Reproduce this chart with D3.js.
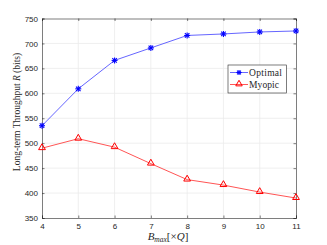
<!DOCTYPE html>
<html>
<head>
<meta charset="utf-8">
<script src="https://cdn.jsdelivr.net/npm/d3@7"></script>
<style>
  body { margin: 0; background: #fff; }
  svg { display: block; }
  .tick text { font-family: "Liberation Sans", Arial, sans-serif; font-size: 8px; fill: #262626; }
</style>
</head>
<body>
<div id="chart"></div>
<script>
const bmax = [4, 5, 6, 7, 8, 9, 10, 11];
const optimal = [535, 609, 666, 691, 716, 719, 723, 725];
const myopic = [490, 509, 492, 459, 427, 416, 402, 390];
const yTicks = [350, 400, 450, 500, 550, 600, 650, 700, 750];

const width = 327, height = 245;
const margin = { top: 18.5, right: 31, bottom: 27, left: 42 };
const serif = '"Liberation Serif", "DejaVu Serif", serif';

const svg = d3.select('#chart').append('svg').attr('width', width).attr('height', height);

const x = d3.scaleLinear().domain([4, 11]).range([margin.left, width - margin.right]);
const y = d3.scaleLinear().domain([350, 750]).range([height - margin.bottom, margin.top]);

// grid
svg.append('g').selectAll('line').data(bmax.slice(1, -1)).join('line')
  .attr('x1', (d) => x(d)).attr('x2', (d) => x(d))
  .attr('y1', y(350)).attr('y2', y(750))
  .attr('stroke', '#ebebeb').attr('stroke-width', 0.8);
svg.append('g').selectAll('line').data(yTicks.slice(1, -1)).join('line')
  .attr('x1', x(4)).attr('x2', x(11))
  .attr('y1', (d) => y(d)).attr('y2', (d) => y(d))
  .attr('stroke', '#ebebeb').attr('stroke-width', 0.8);

// axes
const xAxis = svg.append('g').attr('transform', `translate(0,${y(350)})`)
  .call(d3.axisBottom(x).tickValues(bmax).tickFormat(d3.format('d')).tickSize(-2.5).tickPadding(5));
const xTop = svg.append('g').attr('transform', `translate(0,${y(750)})`)
  .call(d3.axisTop(x).tickValues(bmax).tickFormat('').tickSize(-2.5));
const yAxis = svg.append('g').attr('transform', `translate(${x(4)},0)`)
  .call(d3.axisLeft(y).tickValues(yTicks).tickSize(-2.5).tickPadding(4));
const yRight = svg.append('g').attr('transform', `translate(${x(11)},0)`)
  .call(d3.axisRight(y).tickValues(yTicks).tickFormat('').tickSize(-2.5));
[xAxis, xTop, yAxis, yRight].forEach((g) => {
  g.selectAll('path.domain').attr('stroke', '#262626').attr('stroke-width', 0.6);
  g.selectAll('.tick line').attr('stroke', '#262626').attr('stroke-width', 0.6);
});

const line = d3.line().x((d, i) => x(bmax[i])).y((d) => y(d));

// optimal
svg.append('path').datum(optimal).attr('d', line)
  .attr('fill', 'none').attr('stroke', '#6666ff').attr('stroke-width', 1);
const star = (g, cx, cy, s) => {
  const p = g.append('g').attr('transform', `translate(${cx},${cy})`).attr('stroke', '#0000ff').attr('stroke-width', 1.1);
  p.append('line').attr('x1', -s).attr('x2', s).attr('y1', 0).attr('y2', 0);
  p.append('line').attr('x1', 0).attr('x2', 0).attr('y1', -s).attr('y2', s);
  p.append('line').attr('x1', -s * 0.75).attr('x2', s * 0.75).attr('y1', -s * 0.75).attr('y2', s * 0.75);
  p.append('line').attr('x1', -s * 0.75).attr('x2', s * 0.75).attr('y1', s * 0.75).attr('y2', -s * 0.75);
};
const stars = svg.append('g');
optimal.forEach((v, i) => star(stars, x(bmax[i]), y(v), 3));

// myopic
svg.append('path').datum(myopic).attr('d', line)
  .attr('fill', 'none').attr('stroke', '#ff5555').attr('stroke-width', 1);
const tri = d3.symbol().type(d3.symbolTriangle).size(20);
svg.append('g').selectAll('path').data(myopic).join('path')
  .attr('transform', (d, i) => `translate(${x(bmax[i])},${y(d) - 0.5})`)
  .attr('d', tri).attr('fill', 'none').attr('stroke', '#ff0000').attr('stroke-width', 1);

// legend
const lg = svg.append('g').attr('transform', 'translate(228,65)');
lg.append('rect').attr('width', 58.5).attr('height', 28)
  .attr('fill', '#fff').attr('stroke', '#262626').attr('stroke-width', 0.6);
lg.append('line').attr('x1', 2).attr('x2', 20).attr('y1', 7.5).attr('y2', 7.5).attr('stroke', '#6666ff');
star(lg, 11, 7.5, 2.6);
lg.append('line').attr('x1', 2).attr('x2', 20).attr('y1', 19.5).attr('y2', 19.5).attr('stroke', '#ff5555');
lg.append('path').attr('transform', 'translate(11,19)').attr('d', d3.symbol().type(d3.symbolTriangle).size(18))
  .attr('fill', 'none').attr('stroke', '#ff0000');
lg.append('text').attr('x', 21).attr('y', 10.5).text('Optimal').attr('textLength', 33)
  .attr('font-family', serif).attr('font-size', 9.5).attr('fill', '#262626');
lg.append('text').attr('x', 21).attr('y', 22.5).text('Myopic').attr('textLength', 30)
  .attr('font-family', serif).attr('font-size', 9.5).attr('fill', '#262626');

// axis labels
const yl = svg.append('text')
  .attr('transform', 'translate(20,112) rotate(-90)')
  .attr('text-anchor', 'middle')
  .attr('font-family', serif).attr('font-size', 9.5).attr('fill', '#262626');
yl.append('tspan').text('Long-term Throughput ');
yl.append('tspan').attr('font-style', 'italic').text('R');
yl.append('tspan').text(' (bits)');

const xl = svg.append('text')
  .attr('x', 168).attr('y', 240)
  .attr('text-anchor', 'middle')
  .attr('font-family', serif).attr('font-size', 11).attr('fill', '#262626');
xl.append('tspan').attr('font-style', 'italic').text('B');
xl.append('tspan').attr('font-style', 'italic').attr('font-size', 7.5).attr('dy', 2).text('max');
xl.append('tspan').attr('dy', -2).text('[×');
xl.append('tspan').attr('font-style', 'italic').text('Q');
xl.append('tspan').text(']');
</script>
</body>
</html>
